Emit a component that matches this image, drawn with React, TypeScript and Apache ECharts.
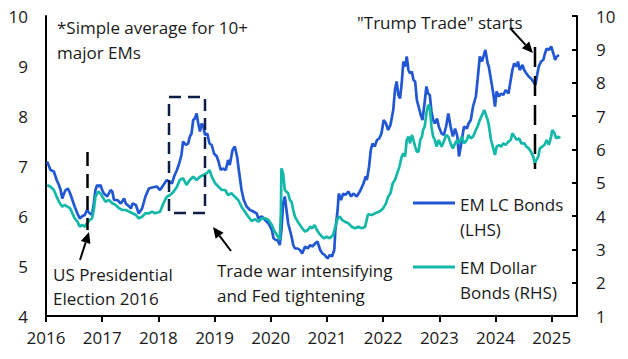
import React, { useEffect, useRef } from "react";
import * as echarts from "echarts";

// EM local-currency bond yields (LHS, %)
const lcYears = [
  2016.02, 2016.08, 2016.14, 2016.19, 2016.23, 2016.26, 2016.29, 2016.32, 2016.35, 2016.39,
  2016.43, 2016.47, 2016.51, 2016.56, 2016.6, 2016.65, 2016.69, 2016.73, 2016.78, 2016.82,
  2016.85, 2016.88, 2016.91, 2016.94, 2016.97, 2017.0, 2017.03, 2017.09, 2017.15, 2017.18,
  2017.21, 2017.27, 2017.33, 2017.39, 2017.42, 2017.48, 2017.51, 2017.54, 2017.6, 2017.65,
  2017.71, 2017.77, 2017.83, 2017.89, 2017.97, 2018.03, 2018.09, 2018.15, 2018.19, 2018.24,
  2018.28, 2018.33, 2018.37, 2018.41, 2018.44, 2018.49, 2018.53, 2018.56, 2018.59, 2018.62,
  2018.65, 2018.68, 2018.71, 2018.74, 2018.77, 2018.8, 2018.83, 2018.87, 2018.91, 2018.95,
  2018.99, 2019.04, 2019.07, 2019.11, 2019.15, 2019.2, 2019.24, 2019.27, 2019.32, 2019.36,
  2019.4, 2019.44, 2019.48, 2019.52, 2019.57, 2019.63, 2019.69, 2019.75, 2019.78, 2019.84,
  2019.9, 2019.96, 2020.02, 2020.05, 2020.09, 2020.12, 2020.16, 2020.19, 2020.22, 2020.25,
  2020.28, 2020.31, 2020.34, 2020.37, 2020.4, 2020.43, 2020.48, 2020.52, 2020.56, 2020.61,
  2020.66, 2020.7, 2020.74, 2020.79, 2020.83, 2020.88, 2020.92, 2020.96, 2021.01, 2021.05,
  2021.09, 2021.13, 2021.15, 2021.19, 2021.21, 2021.25, 2021.29, 2021.33, 2021.38, 2021.43,
  2021.47, 2021.53, 2021.59, 2021.65, 2021.69, 2021.71, 2021.75, 2021.78, 2021.81, 2021.85,
  2021.89, 2021.93, 2021.97, 2022.01, 2022.05, 2022.09, 2022.13, 2022.18, 2022.21, 2022.24,
  2022.27, 2022.3, 2022.33, 2022.36, 2022.39, 2022.42, 2022.45, 2022.48, 2022.51, 2022.54,
  2022.57, 2022.6, 2022.63, 2022.67, 2022.7, 2022.74, 2022.77, 2022.8, 2022.83, 2022.86,
  2022.89, 2022.92, 2022.96, 2022.99, 2023.04, 2023.08, 2023.12, 2023.16, 2023.2, 2023.24,
  2023.28, 2023.32, 2023.35, 2023.4, 2023.44, 2023.49, 2023.52, 2023.56, 2023.6, 2023.65,
  2023.68, 2023.72, 2023.76, 2023.8, 2023.82, 2023.86, 2023.88, 2023.92, 2023.96, 2023.99,
  2024.02, 2024.06, 2024.1, 2024.14, 2024.18, 2024.23, 2024.26, 2024.3, 2024.33, 2024.38,
  2024.4, 2024.43, 2024.48, 2024.51, 2024.55, 2024.59, 2024.63, 2024.67, 2024.71, 2024.74,
  2024.77, 2024.81, 2024.85, 2024.88, 2024.91, 2024.95, 2024.99, 2025.03, 2025.06, 2025.09,
  2025.13,
];
const lcValues = [
  7.09, 6.92, 6.89, 6.72, 6.62, 6.52, 6.35, 6.45, 6.52, 6.55,
  6.45, 6.32, 6.19, 6.05, 5.95, 6.0, 6.02, 6.12, 6.05, 6.02,
  6.25, 6.52, 6.62, 6.59, 6.62, 6.52, 6.45, 6.39, 6.52, 6.49,
  6.32, 6.32, 6.25, 6.35, 6.25, 6.19, 6.15, 6.25, 6.22, 6.05,
  6.15, 6.39, 6.55, 6.57, 6.59, 6.52, 6.62, 6.72, 6.69, 6.65,
  6.79, 6.92, 7.05, 7.22, 7.49, 7.42, 7.45, 7.59, 7.65, 7.92,
  7.95, 8.05, 7.85, 7.69, 7.85, 7.79, 7.62, 7.65, 7.45, 7.42,
  7.25, 7.19, 7.09, 6.92, 6.95, 6.92, 7.12, 7.02, 7.32, 7.39,
  7.19, 6.85, 6.52, 6.32, 6.19, 6.12, 6.09, 6.05, 5.95, 5.99,
  5.92, 5.85, 5.72, 5.55, 5.52, 5.52, 5.42, 5.72, 6.25, 6.39,
  6.12, 5.85, 5.72, 5.59, 5.42, 5.35, 5.35, 5.32, 5.25, 5.39,
  5.35, 5.42, 5.39, 5.45, 5.49, 5.32, 5.25, 5.22, 5.15, 5.22,
  5.19, 5.32, 5.72, 6.12, 6.45, 6.32, 6.45, 6.42, 6.49, 6.39,
  6.45, 6.39, 6.5, 6.65, 6.79, 6.72, 6.99, 7.32, 7.45, 7.39,
  7.52, 7.55, 7.65, 7.92, 7.85, 7.72, 7.82, 8.12, 8.52, 8.69,
  8.42, 8.35, 8.65, 9.09, 8.99, 9.19, 8.92, 8.85, 8.89, 8.72,
  8.69, 8.32, 8.19, 8.02, 7.92, 8.29, 8.59, 8.45, 8.42, 8.09,
  7.92, 7.85, 7.95, 7.79, 7.65, 7.62, 7.79, 8.05, 7.79, 7.59,
  7.75, 7.59, 7.19, 7.52, 7.79, 7.75, 7.85, 7.92, 8.19, 8.39,
  8.72, 9.19, 9.09, 9.25, 9.32, 9.05, 8.99, 8.72, 8.45, 8.19,
  8.49, 8.39, 8.45, 8.42, 8.52, 8.45, 8.65, 8.92, 9.05, 8.99,
  9.09, 8.92, 9.02, 8.92, 8.85, 8.79, 8.75, 8.69, 8.62, 8.82,
  8.99, 9.09, 9.12, 9.25, 9.35, 9.32, 9.39, 9.25, 9.12, 9.19,
  9.22,
];

// EM dollar bond yields (RHS, %)
const usdYears = [
  2016.02, 2016.08, 2016.14, 2016.19, 2016.23, 2016.29, 2016.33, 2016.38, 2016.43, 2016.47,
  2016.51, 2016.56, 2016.6, 2016.65, 2016.69, 2016.73, 2016.78, 2016.82, 2016.85, 2016.88,
  2016.93, 2016.97, 2017.02, 2017.06, 2017.12, 2017.18, 2017.24, 2017.3, 2017.36, 2017.42,
  2017.48, 2017.54, 2017.6, 2017.65, 2017.71, 2017.77, 2017.83, 2017.89, 2017.94, 2018.03,
  2018.09, 2018.15, 2018.21, 2018.27, 2018.33, 2018.38, 2018.44, 2018.5, 2018.56, 2018.62,
  2018.68, 2018.74, 2018.8, 2018.86, 2018.91, 2018.95, 2019.01, 2019.07, 2019.13, 2019.19,
  2019.24, 2019.3, 2019.36, 2019.42, 2019.48, 2019.54, 2019.6, 2019.66, 2019.72, 2019.78,
  2019.84, 2019.9, 2019.96, 2020.02, 2020.07, 2020.13, 2020.16, 2020.18, 2020.19, 2020.22,
  2020.25, 2020.28, 2020.31, 2020.34, 2020.37, 2020.4, 2020.43, 2020.48, 2020.52, 2020.56,
  2020.61, 2020.66, 2020.7, 2020.74, 2020.78, 2020.82, 2020.86, 2020.91, 2020.95, 2020.99,
  2021.05, 2021.11, 2021.15, 2021.19, 2021.23, 2021.27, 2021.32, 2021.38, 2021.44, 2021.5,
  2021.56, 2021.62, 2021.68, 2021.73, 2021.8, 2021.88, 2021.95, 2022.0, 2022.05, 2022.09,
  2022.13, 2022.17, 2022.21, 2022.25, 2022.29, 2022.33, 2022.36, 2022.39, 2022.42, 2022.45,
  2022.48, 2022.51, 2022.54, 2022.57, 2022.6, 2022.63, 2022.66, 2022.69, 2022.71, 2022.74,
  2022.77, 2022.8, 2022.83, 2022.86, 2022.89, 2022.92, 2022.95, 2022.99, 2023.04, 2023.08,
  2023.12, 2023.16, 2023.2, 2023.24, 2023.28, 2023.32, 2023.35, 2023.4, 2023.44, 2023.49,
  2023.52, 2023.56, 2023.6, 2023.65, 2023.68, 2023.72, 2023.76, 2023.8, 2023.82, 2023.86,
  2023.88, 2023.92, 2023.96, 2023.99, 2024.02, 2024.06, 2024.1, 2024.14, 2024.18, 2024.23,
  2024.27, 2024.3, 2024.34, 2024.38, 2024.42, 2024.46, 2024.51, 2024.55, 2024.59, 2024.63,
  2024.67, 2024.7, 2024.73, 2024.76, 2024.79, 2024.83, 2024.87, 2024.91, 2024.95, 2024.99,
  2025.01, 2025.05, 2025.08, 2025.12, 2025.15,
];
const usdValues = [
  4.93, 4.88, 4.78, 4.58, 4.43, 4.28, 4.33, 4.28, 4.23, 4.08,
  3.93, 3.83, 3.68, 3.73, 3.68, 3.78, 3.88, 3.93, 4.18, 4.58,
  4.73, 4.68, 4.53, 4.43, 4.48, 4.38, 4.33, 4.23, 4.18, 4.18,
  4.13, 4.08, 4.03, 3.93, 3.98, 4.08, 4.08, 4.13, 4.08, 4.13,
  4.38, 4.58, 4.63, 4.73, 4.88, 5.08, 5.13, 4.93, 5.08, 5.18,
  5.08, 5.18, 5.23, 5.28, 5.38, 5.18, 4.98, 4.88, 4.78, 4.78,
  4.63, 4.68, 4.58, 4.48, 4.28, 4.13, 3.98, 3.85, 3.9, 3.83,
  3.93, 3.93, 3.88, 3.73, 3.53, 3.38, 3.28, 4.08, 5.43, 5.28,
  4.78, 4.73, 4.68, 4.48, 4.43, 4.18, 3.98, 3.83, 3.73, 3.63,
  3.53, 3.58, 3.68, 3.63, 3.73, 3.58, 3.48, 3.38, 3.33, 3.38,
  3.33, 3.43, 3.68, 3.93, 3.98, 3.88, 3.83, 3.78, 3.68, 3.63,
  3.68, 3.63, 3.68, 4.05, 4.03, 4.1, 4.15, 4.23, 4.38, 4.58,
  4.68, 4.98, 5.08, 5.28, 5.48, 5.78, 5.88, 5.78, 6.28, 6.38,
  6.18, 6.43, 6.28, 6.08, 5.93, 5.93, 6.28, 6.38, 6.58, 6.68,
  7.08, 7.33, 7.28, 6.68, 6.38, 6.28, 6.08, 6.28, 6.08, 6.23,
  6.43, 6.38, 6.18, 6.03, 6.18, 6.28, 6.18, 6.38, 6.18, 6.28,
  6.43, 6.33, 6.38, 6.58, 6.68, 6.88, 7.03, 7.18, 7.08, 6.88,
  6.73, 6.28, 6.03, 5.83, 6.08, 6.13, 6.08, 6.18, 6.13, 6.23,
  6.28, 6.48, 6.38, 6.28, 6.33, 6.18, 6.18, 6.08, 6.03, 5.93,
  5.78, 5.58, 5.68, 5.78, 6.03, 6.08, 6.13, 6.28, 6.13, 6.38,
  6.58, 6.48, 6.33, 6.38, 6.33,
];

const yearTicks = [2016, 2017, 2018, 2019, 2020, 2021, 2022, 2023, 2024, 2025];

const BLUE = "#2157d3";
const TEAL = "#14b8a8";
const NAVY = "#0c1e45";
const INK = "#1a1a1a";
const FONT = "'Open Sans', 'Noto Sans', sans-serif";
const FS = 17;

function arrow(x1: number, y1: number, x2: number, y2: number) {
  const len = 11;
  const half = 5;
  const dx = x2 - x1;
  const dy = y2 - y1;
  const d = Math.hypot(dx, dy);
  const ux = dx / d;
  const uy = dy / d;
  const bx = x2 - ux * len;
  const by = y2 - uy * len;
  return [
    {
      type: "line",
      z: 100,
      shape: { x1, y1, x2: bx, y2: by },
      style: { stroke: "#000", lineWidth: 2 },
    },
    {
      type: "polygon",
      z: 100,
      shape: {
        points: [
          [x2, y2],
          [bx - uy * half, by + ux * half],
          [bx + uy * half, by - ux * half],
        ],
      },
      style: { fill: "#000" },
    },
  ];
}

function label(text: string, x: number, y: number) {
  return {
    type: "text",
    z: 100,
    style: {
      text,
      x,
      y,
      fill: INK,
      font: `${FS}px ${FONT}`,
      textAlign: "left",
      textVerticalAlign: "middle",
    },
  };
}

export default function App() {
  const ref = useRef<HTMLDivElement>(null);

  useEffect(() => {
    if (!ref.current) return;
    const chart = echarts.init(ref.current, null, { renderer: "svg" });
    const axisLine = { show: true, lineStyle: { color: "#000", width: 2 } };
    chart.setOption({
      animation: false,
      textStyle: { fontFamily: FONT },
      grid: { left: 46, right: 51, top: 16, bottom: 43 },
      xAxis: {
        type: "value",
        min: 2016,
        max: 2025.45,
        interval: 1,
        axisLine,
        axisTick: {
          show: true,
          length: 6,
          lineStyle: { color: "#000", width: 2 },
          customValues: yearTicks,
        },
        axisLabel: {
          fontSize: FS,
          color: INK,
          fontFamily: FONT,
          margin: 13,
          customValues: yearTicks,
          formatter: (v: number) => (Number.isInteger(v) ? String(v) : ""),
        },
        splitLine: { show: false },
      },
      yAxis: [
        {
          type: "value",
          min: 4,
          max: 10,
          interval: 1,
          position: "left",
          axisLine,
          axisTick: { show: false },
          axisLabel: { fontSize: FS, color: INK, fontFamily: FONT, margin: 18 },
          splitLine: { show: false },
        },
        {
          type: "value",
          min: 1,
          max: 10,
          interval: 1,
          position: "right",
          axisLine,
          axisTick: {
            show: true,
            inside: true,
            length: 5,
            lineStyle: { color: "#000", width: 2 },
          },
          axisLabel: { fontSize: FS, color: INK, fontFamily: FONT, margin: 19 },
          splitLine: { show: false },
        },
      ],
      series: [
        {
          name: "EM LC Bonds (LHS)",
          type: "line",
          yAxisIndex: 0,
          showSymbol: false,
          data: lcYears.map((y, i) => [y, lcValues[i]]),
          lineStyle: { color: BLUE, width: 2.7 },
          itemStyle: { color: BLUE },
        },
        {
          name: "EM Dollar Bonds (RHS)",
          type: "line",
          yAxisIndex: 1,
          showSymbol: false,
          data: usdYears.map((y, i) => [y, usdValues[i]]),
          lineStyle: { color: TEAL, width: 2.7 },
          itemStyle: { color: TEAL },
        },
      ],
      graphic: [
        label("*Simple average for 10+", 57, 27),
        label("major EMs", 57, 52),
        label('"Trump Trade" starts', 357, 22),
        label("US Presidential", 53, 274),
        label("Election 2016", 53, 298),
        label("Trade war intensifying", 217, 270),
        label("and Fed tightening", 217, 295),
        // legend
        {
          type: "line",
          z: 100,
          shape: { x1: 413, y1: 203, x2: 455, y2: 203 },
          style: { stroke: BLUE, lineWidth: 3 },
        },
        label("EM LC Bonds", 460, 204),
        label("(LHS)", 460, 229),
        {
          type: "line",
          z: 100,
          shape: { x1: 413, y1: 267, x2: 455, y2: 267 },
          style: { stroke: TEAL, lineWidth: 3 },
        },
        label("EM Dollar", 460, 267),
        label("Bonds (RHS)", 460, 292),
        // event markers
        {
          type: "line",
          z: 100,
          shape: { x1: 87.5, y1: 152, x2: 87.5, y2: 230 },
          style: { stroke: "#000", lineWidth: 2.5, lineDash: [14, 8] },
        },
        {
          type: "line",
          z: 100,
          shape: { x1: 535, y1: 47, x2: 535, y2: 169 },
          style: { stroke: "#000", lineWidth: 2.5, lineDash: [20, 9] },
        },
        {
          type: "rect",
          z: 100,
          shape: { x: 169, y: 97, width: 36, height: 116 },
          style: { fill: "none", stroke: NAVY, lineWidth: 2.5, lineDash: [12, 7] },
        },
        ...arrow(80, 260, 89, 232),
        ...arrow(231, 251, 213, 227),
        ...arrow(510, 28, 533, 53),
      ],
    });
    return () => chart.dispose();
  }, []);

  return (
    <div
      ref={ref}
      style={{ position: "absolute", left: 0, top: 0, width: 628, height: 359 }}
    />
  );
}
